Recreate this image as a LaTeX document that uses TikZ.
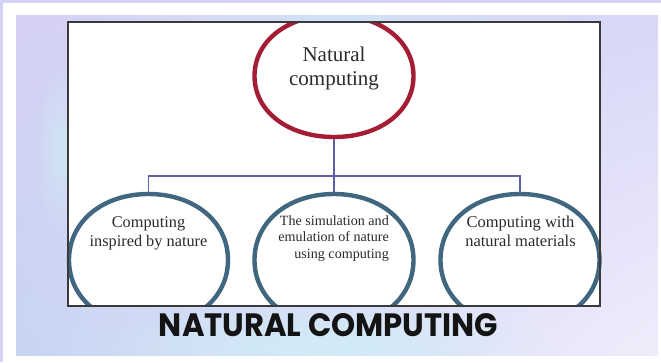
\documentclass[tikz,border=0pt]{standalone}
\usepackage{fontspec}
\setmainfont{Liberation Serif}
\newfontfamily\titlefont{Poppins}
\usetikzlibrary{fadings,shadings}

\tikzfading[name=softglow, inner color=transparent!0, outer color=transparent!100]

\definecolor{rootred}{HTML}{A51C35}
\definecolor{leafblue}{HTML}{40677F}
\definecolor{linkblue}{HTML}{5D60A8}
\definecolor{textgray}{HTML}{2B2B2B}
\definecolor{framegray}{HTML}{3A3A3A}
\definecolor{rimlav}{HTML}{D4D2F4}
\definecolor{bgul}{HTML}{D5D1F3}
\definecolor{bgur}{HTML}{D7D8F7}
\definecolor{bgll}{HTML}{C7D5F2}
\definecolor{bglr}{HTML}{F0ECFB}
\definecolor{softcyan}{HTML}{D0ECF7}

% oval outline through the four side anchors of a node
% #1 node, #2 style, #3 horizontal handle, #4 vertical handle
\newcommand{\ovaloutline}[4]{%
  \draw[#2] (#1.west) .. controls ++(0,-#4) and ++(-#3,0) .. (#1.north)
    .. controls ++(#3,0) and ++(0,-#4) .. (#1.east)
    .. controls ++(0,#4) and ++(#3,0) .. (#1.south)
    .. controls ++(-#3,0) and ++(0,#4) .. (#1.west) -- cycle;}

\begin{document}
\begin{tikzpicture}[x=1pt,y=-1pt,
  rootbubble/.style={rectangle, minimum width=159pt, minimum height=122pt,
    inner sep=0pt, outer sep=0pt},
  leafbubble/.style={rectangle, minimum width=159pt, minimum height=132pt,
    inner sep=0pt, outer sep=0pt},
  rootline/.style={draw=rootred, fill=white, line width=4.4pt},
  leafline/.style={draw=leafblue, fill=white, line width=4.4pt},
  link/.style={draw=linkblue, line width=1.4pt},
  lbl/.style={inner sep=0pt, text=textgray, anchor=base},
  frame/.style={draw=framegray, line width=1.2pt},
  heading/.style={inner sep=0pt, text=black!92}]

  % page background: thin tinted rim, white mat, pastel panel
  \useasboundingbox (0,0) rectangle (661,362);
  \fill[rimlav] (0,0) rectangle (661,362);
  \fill[white] (3,3) rectangle (661,362);
  \shade[upper left=bgul, upper right=bgur, lower left=bgll, lower right=bglr]
    (16,15) rectangle (658,355);
  \begin{scope}
    \clip (16,15) rectangle (658,355);
    \fill[softcyan, path fading=softglow] (320,345) ellipse (230pt and 45pt);
    \fill[softcyan, opacity=0.7, path fading=softglow] (60,150) ellipse (25pt and 90pt);
    \fill[softcyan, opacity=0.6, path fading=softglow] (330,15) ellipse (260pt and 25pt);
  \end{scope}

  % chart area
  \fill[white] (68,22) rectangle (600,306);

  \begin{scope}
    \clip (60,22) rectangle (610,306);

    \node[rootbubble] (root) at (334,76) {};
    \node[leafbubble] (inspired) at (148.5,260) {};
    \node[leafbubble] (simulation) at (334,260) {};
    \node[leafbubble] (materials) at (520,260) {};

    \coordinate (bus) at (334,176);
    \draw[link] (root.south) -- (simulation.north);
    \draw[link] (inspired.north) |- (bus) -| (materials.north);

    \ovaloutline{root}{rootline}{46}{35.4}
    \ovaloutline{inspired}{leafline}{46}{38.3}
    \ovaloutline{simulation}{leafline}{46}{38.3}
    \ovaloutline{materials}{leafline}{46}{38.3}

    \node[lbl] (roottext) at (334,61.7)
      {\fontsize{21}{24}\selectfont\begin{tabular}[t]{@{}c@{}}Natural\\computing\end{tabular}};
    \node[lbl] (inspiredtext) at (148.5,227.7)
      {\fontsize{16.3}{18.4}\selectfont\begin{tabular}[t]{@{}c@{}}Computing\\inspired by nature\end{tabular}};
    \node[lbl, anchor=base east] (simulationtext) at (389,225)
      {\fontsize{14.1}{16.5}\selectfont\begin{tabular}[t]{@{}r@{}}The simulation and\\emulation of nature\\using computing\end{tabular}};
    \node[lbl] (materialstext) at (520.5,227.7)
      {\fontsize{16.5}{18.4}\selectfont\begin{tabular}[t]{@{}c@{}}Computing with\\natural materials\end{tabular}};
  \end{scope}

  \draw[frame] (68,22) rectangle (600,306);

  \node[heading] (title) at (328.5,325.5)
    {\resizebox{339pt}{23pt}{\titlefont\bfseries NATURAL COMPUTING}};
\end{tikzpicture}
\end{document}
